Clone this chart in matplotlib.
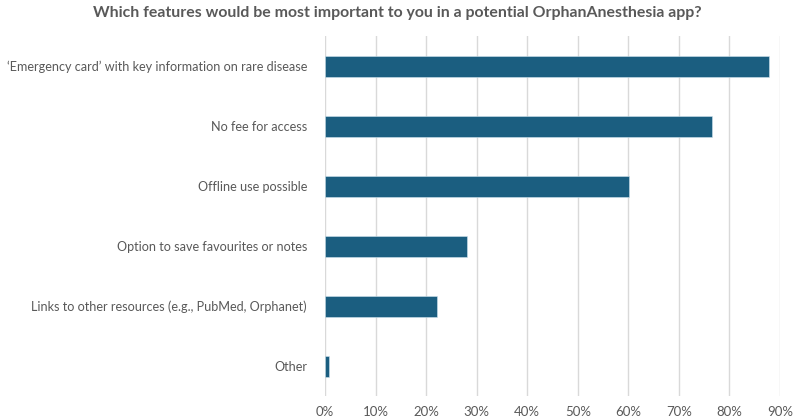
import matplotlib.pyplot as plt

features = [
    "\u2018Emergency card\u2019 with key information on rare disease",
    "No fee for access",
    "Offline use possible",
    "Option to save favourites or notes",
    "Links to other resources (e.g., PubMed, Orphanet)",
    "Other",
]
share = [87.8, 76.5, 60.1, 28.1, 22.2, 0.7]
ticks = [0, 10, 20, 30, 40, 50, 60, 70, 80, 90]

plt.rcParams["font.family"] = ["Lato", "DejaVu Sans"]

fig = plt.figure(figsize=(7.94, 4.2), dpi=100)
ax = fig.add_axes([325 / 794, 1 - 396 / 420, 455 / 794, 360 / 420])

pos = list(range(len(features)))
ax.barh(pos, share, height=0.35, color="#1b5e80", edgecolor="#cfe3ee", linewidth=0.4, zorder=3)

ax.set_xlim(0, 90)
ax.set_ylim(len(features) - 0.5, -0.5)
ax.set_xticks(ticks)
ax.set_xticklabels([f"{t}%" for t in ticks], color="#595959", fontsize=9.5)
ax.set_yticks(pos)
ax.set_yticklabels(features, color="#595959", fontsize=9.1)
ax.tick_params(length=0, pad=13)
ax.tick_params(axis="x", pad=7)
ax.grid(axis="x", color="#d9d9d9", linewidth=1, zorder=0)
for s in ["top", "right", "bottom", "left"]:
    ax.spines[s].set_visible(False)

fig.text(0.5, 1 - 13 / 420, "Which features would be most important to you in a potential OrphanAnesthesia app?",
         ha="center", va="center", fontsize=11.4, fontweight="bold", color="#595959")

fig.savefig("out.png", dpi=100)
